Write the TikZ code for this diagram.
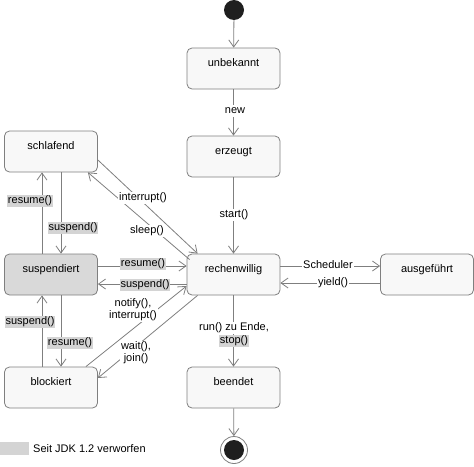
\documentclass[tikz,border=0pt]{standalone}
\usepackage{fontspec}
\setmainfont{Liberation Sans}
\usetikzlibrary{arrows.meta}
\definecolor{linegray}{HTML}{7F7F7F}
\definecolor{boxfill}{HTML}{F8F8F8}
\definecolor{deprec}{HTML}{D4D4D4}
\definecolor{suspfill}{HTML}{D9D9D9}
\begin{document}
\begin{tikzpicture}[x=1pt,y=-1pt,
  font=\fontsize{11}{13}\selectfont,
  state/.style={draw=linegray, fill=boxfill, rounded corners=5pt, line width=0.8pt,
    minimum width=93pt, minimum height=41pt, text height=8pt, text depth=12pt, inner sep=0pt},
  conn/.style={draw=linegray, line width=0.8pt, -{Straight Barb[length=7pt,width=10pt,line width=0.8pt]}},
  lbl/.style={fill=white, inner sep=1pt, text height=8pt, text depth=2.5pt},
  dep/.style={fill=deprec, inner sep=1pt, text height=8pt, text depth=2.5pt},
  lbl2/.style={fill=white, inner sep=1pt, align=center, font=\fontsize{11}{12}\selectfont}]
\useasboundingbox (0,0) rectangle (474,466);
% states
\node[circle, fill=black!88, minimum size=20pt, inner sep=0pt] (start) at (234,10) {};
\node[state] (unb) at (233.5,68.5) {unbekannt};
\node[state] (erz) at (233.5,156.5) {erzeugt};
\node[state] (rech) at (233.5,274.5) {rechenwillig};
\node[state] (ausg) at (427,274.5) {ausgeführt};
\node[state] (been) at (233.5,387.5) {beendet};
\node[state] (schl) at (51,151.5) {schlafend};
\node[state, fill=suspfill] (susp) at (51,274.5) {suspendiert};
\node[state] (block) at (51,387.5) {blockiert};
\node[circle, draw=linegray, fill=white, line width=0.8pt, minimum size=27pt, inner sep=0pt] (end) at (234,450) {};
\fill[black!88] (end.center) circle (10pt);
% connectors
\draw[conn] (start) -- (unb);
\draw[conn] (unb) -- (erz);
\draw[conn] (erz) -- (rech);
\draw[conn] (rech) -- (been);
\draw[conn] (been) -- (end);
\draw[conn] ([yshift=8.5pt]rech.east) -- ([yshift=8.5pt]ausg.west);
\draw[conn] ([yshift=-8.5pt]ausg.west) -- ([yshift=-8.5pt]rech.east);
\draw[conn] ([yshift=8.5pt]susp.east) -- ([yshift=8.5pt]rech.west);
\draw[conn] ([yshift=-9.5pt]rech.west) -- ([yshift=-9.5pt]susp.east);
\draw[conn] ([xshift=-9pt]susp.north) -- ([xshift=-9pt]schl.south);
\draw[conn] ([xshift=10pt]schl.south) -- ([xshift=10pt]susp.north);
\draw[conn] ([xshift=-9pt]block.north) -- ([xshift=-9pt]susp.south);
\draw[conn] ([xshift=10pt]susp.south) -- ([xshift=10pt]block.north);
\draw[conn] ([yshift=-8.5pt]schl.east) -- ([xshift=11pt]rech.north west);
\draw[conn] ([xshift=3pt,yshift=-6pt]rech.north west) -- ([xshift=-10pt]schl.south east);
\draw[conn] ([xshift=-12pt]block.north east) -- ([yshift=-11.5pt]rech.west);
\draw[conn] ([xshift=11pt]rech.south west) -- ([yshift=9.5pt]block.east);
% labels
\node[lbl] (lnew) at (235,111) {new};
\node[lbl] (lstart) at (234,215) {start()};
\node[lbl] (lsched) at (328,266) {Scheduler};
\node[lbl] (lyield) at (333,283) {yield()};
\node[lbl] (lrun) at (234,328) {run() zu Ende,};
\node[dep] (lstop) at (234,341) {stop()};
\node[dep] (lres1) at (143,264) {resume()};
\node[dep] (lsus1) at (145,285) {suspend()};
\node[dep] (lres2) at (30,201) {resume()};
\node[dep] (lsus2) at (73,228) {suspend()};
\node[dep] (lsus3) at (30,322) {suspend()};
\node[dep] (lres3) at (70,343) {resume()};
\node[lbl] (lint) at (143,198) {interrupt()};
\node[lbl] (lsleep) at (147,231) {sleep()};
\node[lbl2] (lnot) at (133,310) {notify(),\\interrupt()};
\node[lbl2] (lwait) at (136,353) {wait(),\\join()};
% legend
\node[fill=deprec, minimum width=29pt, minimum height=13pt, inner sep=0pt, anchor=north west] (legbox) at (0,442) {};
\node[anchor=west, inner sep=0pt] (legtext) at (33,449) {Seit JDK 1.2 verworfen};
\end{tikzpicture}
\end{document}
